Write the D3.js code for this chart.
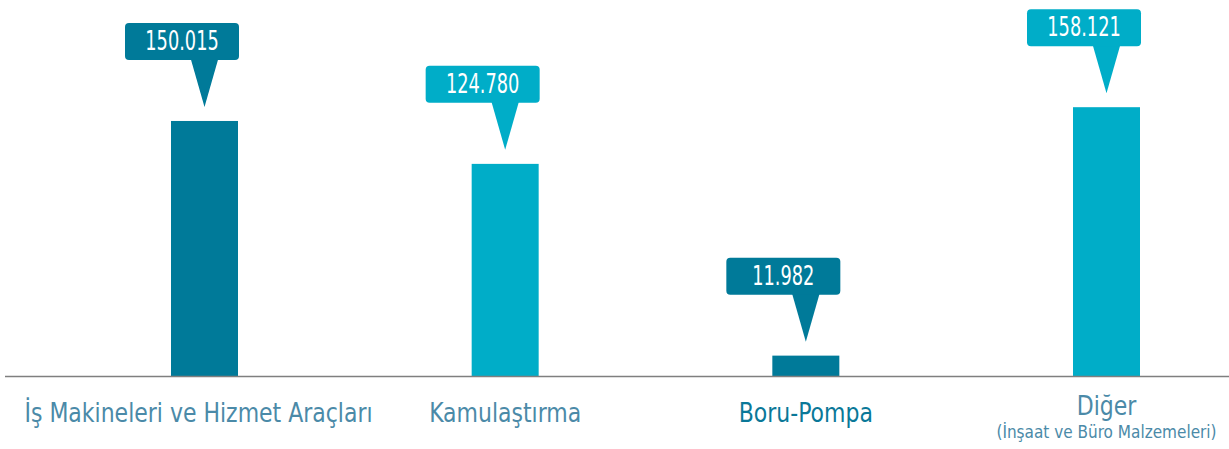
<!DOCTYPE html>
<html>
<head>
<meta charset="utf-8">
<script src="https://cdn.jsdelivr.net/npm/d3@7"></script>
<style>
  html, body { margin: 0; padding: 0; background: #fff; }
  svg { display: block; }
</style>
</head>
<body>
<div id="chart"></div>
<script>
// data
var categories = ["İş Makineleri ve Hizmet Araçları", "Kamulaştırma", "Boru-Pompa", "Diğer"];
var subtitles = ["", "", "", "(İnşaat ve Büro Malzemeleri)"];
var values = [150015, 124780, 11982, 158121];

var barColors = ["#007a99", "#00adc8", "#007a99", "#00adc8"];
var labelColors = ["#4b8aa8", "#4b8aa8", "#0a7898", "#4b8aa8"];

var w = 1229, h = 449;
var baseY = 376;
var barW = 67;

var tr = d3.formatLocale({decimal: ",", thousands: ".", grouping: [3], currency: ["", "₺"]});
var fmt = tr.format(",d");

var svg = d3.select("#chart").append("svg")
  .attr("width", w)
  .attr("height", h);

var x = d3.scalePoint()
  .domain(categories)
  .range([204.5, 1106.5]);

var y = d3.scaleLinear()
  .domain([0, 160000])
  .range([baseY, 104]);

// bars
svg.selectAll("rect.bar")
  .data(values)
  .enter().append("rect")
  .attr("class", "bar")
  .attr("x", function(d, i) { return x(categories[i]) - barW / 2; })
  .attr("y", function(d) { return y(d); })
  .attr("width", barW)
  .attr("height", function(d) { return baseY - y(d); })
  .attr("fill", function(d, i) { return barColors[i]; });

// baseline
svg.append("line")
  .attr("x1", 5).attr("x2", w)
  .attr("y1", baseY + 0.5).attr("y2", baseY + 0.5)
  .attr("stroke", "#7f7f7f")
  .attr("stroke-width", 1.6);

// callouts
var boxW = 114, boxH = 37;
var callout = svg.selectAll("g.callout")
  .data(values)
  .enter().append("g")
  .attr("class", "callout")
  .attr("transform", function(d, i) {
    return "translate(" + x(categories[i]) + "," + (y(d) - 98) + ")";
  });

callout.append("path")
  .attr("d", "M-14," + (boxH - 2) + "L14," + (boxH - 2) + "L0," + (boxH + 47) + "Z")
  .attr("fill", function(d, i) { return barColors[i]; });

callout.append("rect")
  .attr("x", barW / 2 + 1 - boxW)
  .attr("y", 0)
  .attr("width", boxW)
  .attr("height", boxH)
  .attr("rx", 4)
  .attr("fill", function(d, i) { return barColors[i]; });

callout.append("text")
  .attr("x", barW / 2 + 1 - boxW / 2)
  .attr("y", 27)
  .attr("text-anchor", "middle")
  .attr("fill", "#fff")
  .style("font-family", "'DejaVu Sans Condensed', 'DejaVu Sans', sans-serif")
  .style("font-weight", "300")
  .style("font-size", "26px")
  .text(function(d) { return fmt(d); })
  .each(function() {
    // squeeze to the narrow look of the original
    var len = this.getComputedTextLength();
    d3.select(this).attr("textLength", len * 0.76).attr("lengthAdjust", "spacingAndGlyphs");
  });

// category labels
var labels = svg.selectAll("g.label")
  .data(categories)
  .enter().append("g")
  .attr("class", "label")
  .attr("transform", function(d) { return "translate(" + x(d) + ",0)"; });

labels.append("text")
  .attr("x", function(d, i) { return i == 0 ? -6 : 0; })
  .attr("y", function(d, i) { return subtitles[i] ? 415 : 422; })
  .attr("text-anchor", "middle")
  .attr("fill", function(d, i) { return labelColors[i]; })
  .style("font-family", "'DejaVu Sans Condensed', sans-serif")
  .style("font-size", "26px")
  .text(function(d) { return d; })
  .each(function() {
    var len = this.getComputedTextLength();
    d3.select(this).attr("textLength", len * 0.94).attr("lengthAdjust", "spacingAndGlyphs");
  });

labels.append("text")
  .attr("y", 438)
  .attr("text-anchor", "middle")
  .attr("fill", function(d, i) { return labelColors[i]; })
  .style("font-family", "'DejaVu Sans Condensed', sans-serif")
  .style("font-size", "17px")
  .text(function(d, i) { return subtitles[i]; });
</script>
</body>
</html>
